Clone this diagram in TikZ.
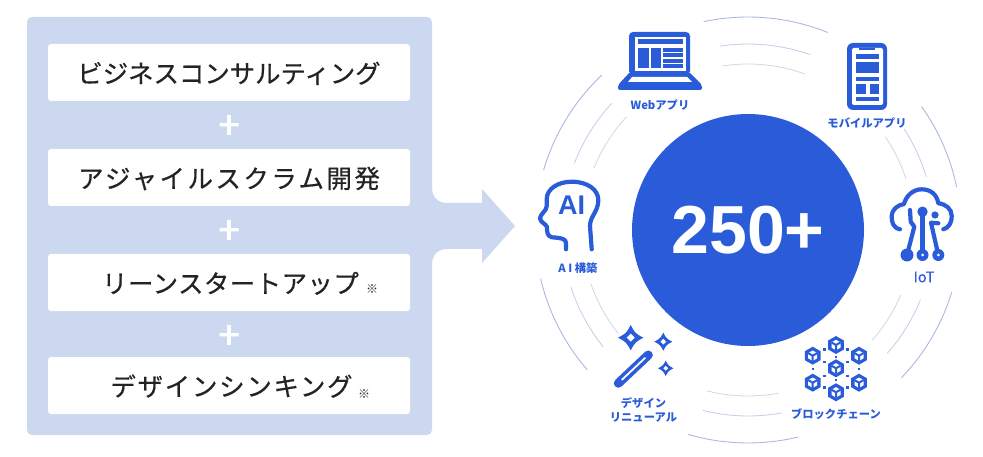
\documentclass[tikz,border=0pt]{standalone}
\usepackage{fontspec}
\setmainfont{Noto Sans CJK JP}
\newfontfamily\cjkmed[FakeBold=0.5]{Noto Sans CJK JP}
\newfontfamily\cjkwide[FakeBold=0.5, LetterSpace=10]{Noto Sans CJK JP}
\newfontfamily\cjkmid[FakeBold=0.5, LetterSpace=7]{Noto Sans CJK JP}
\newfontfamily\cjknarrow[FakeBold=0.5, LetterSpace=2]{Noto Sans CJK JP}
\newfontfamily\plusfont[FakeBold=2]{Noto Sans CJK JP}
\newfontfamily\latinbold[BoldFont={Liberation Sans Bold}]{Liberation Sans}
\usetikzlibrary{positioning}
\definecolor{mainBlue}{RGB}{42,92,217}
\definecolor{panelBlue}{RGB}{203,216,240}
\definecolor{inkBlack}{RGB}{35,35,35}
\definecolor{arcOuter}{RGB}{170,184,224}
\definecolor{arcMid}{RGB}{196,205,230}
\definecolor{arcInner}{RGB}{208,214,232}
\tikzset{
	%Diagram styles
	panel/.style={
		fill=panelBlue,
		rectangle,
		rounded corners=5pt,
		minimum width=405pt,
		minimum height=418pt,
	},
	method/.style={
		fill=white,
		rectangle,
		rounded corners=3pt,
		minimum width=362pt,
		minimum height=57pt,
		text height=22pt,
		text depth=1pt,
		text=inkBlack,
		font=\fontsize{25.4}{30}\cjkmed,
	},
	plusSign/.style={
		text=white,
		font=\fontsize{38}{38}\plusfont,
		inner sep=0pt,
	},
	note/.style={
		text=inkBlack,
		font=\fontsize{12}{12}\selectfont,
		inner sep=0pt,
	},
	hub/.style={
		fill=mainBlue,
		circle,
		minimum size=232pt,
		inner sep=0pt,
		text=white,
		font=\fontsize{68}{68}\latinbold\bfseries,
	},
	label/.style={
		text=mainBlue,
		inner sep=0pt,
		align=center,
		font=\fontsize{11.3}{14}\selectfont\bfseries,
	},
	iconLine/.style={
		draw=mainBlue,
		line width=4.2pt,
		line cap=round,
		line join=round,
	},
	iconFill/.style={
		fill=mainBlue,
	},
	hole/.style={
		fill=white,
	},
	outerArc/.style={draw=arcOuter, line width=0.9pt},
	midArc/.style={draw=arcMid, line width=0.8pt},
	innerArc/.style={draw=arcInner, line width=0.8pt},
	block/.pic={
		\fill[mainBlue] (90:9) -- (30:9) -- (-30:9) -- (-90:9) -- (-150:9) -- (150:9) -- cycle;
		\fill[white] (90:5.2) -- (30:5.2) -- (-30:5.2) -- (-90:5.2) -- (-150:5.2) -- (150:5.2) -- cycle;
		\draw[mainBlue, line width=2pt] (0,0) -- (90:5.2) (0,0) -- (-30:5.2) (0,0) -- (-150:5.2);
	},
	sparkle/.pic={
		\fill[mainBlue] (-1,0) .. controls (-.35,-.35) .. (0,-1) .. controls (.35,-.35) .. (1,0) .. controls (.35,.35) .. (0,1) .. controls (-.35,.35) .. cycle;
	},
}

\begin{document}
\begin{tikzpicture}[x=1pt, y=-1pt, node distance=105pt]
	\useasboundingbox (0,0) rectangle (983,457);

	% left panel with its arrow
	\node (stack) at (229.5,226) [panel] {};
	\fill[panelBlue] (430,188) -- (432,188) .. controls (432,197) and (438,203) .. (447,203) -- (482,203) -- (482,189) -- (515,226) -- (482,263) -- (482,249) -- (447,249) .. controls (438,249) and (432,255) .. (432,264) -- (430,264) -- cycle;

	\node (consulting) at (229,72.5) [method] {ビジネスコンサルティング};
	\node [below of=consulting, method] (agile) {{\cjkwide アジャイルスクラム開発}};
	\node [below of=agile, method] (lean) {\hspace{3pt}{\cjknarrow リーンスタートアップ}};
	\node [below of=lean, yshift=2pt, method] (thinking) {\hspace{5pt}{\cjkmid デザインシンキング}};
	\node (leanNote) at (372,289) [note] {※};
	\node (thinkingNote) at (364,394) [note] {※};
	\node (plusA) at (229,127) [plusSign] {+};
	\node (plusB) at (229,232) [plusSign] {+};
	\node (plusC) at (229,337) [plusSign] {+};

	% hub and rings
	\node (hub) at (748,230) [hub] {250+};
	\foreach \sa/\ea in {102/68, 35.4/11.6, -17/-44, -76.4/-106.4, 221/193.2, 163.7/133.3}
		\draw[outerArc] (hub.center) ++(-\sa:213) arc[start angle=-\sa, end angle=-\ea, radius=213];
	\foreach \sa/\ea in {98.7/70.6, 33/16.6, -22/-41.5, -79.5/-104, 218.9/197.8, 159/137}
		\draw[midArc] (hub.center) ++(-\sa:186) arc[start angle=-\sa, end angle=-\ea, radius=186];
	\foreach \sa/\ea in {98.7/70, 34/17.9, -23/-41.8, -79.2/-104.3, 218.7/198.9, 158.2/137}
		\draw[innerArc] (hub.center) ++(-\sa:166) arc[start angle=-\sa, end angle=-\ea, radius=166];

	% web app
	\fill[iconFill, rounded corners=4pt] (629,75) -- (629,32) -- (690,32) -- (690,75) -- cycle;
	\fill[iconFill, rounded corners=2pt] (630,72) -- (689,72) -- (702,85) -- (702,90) -- (618,90) -- (618,85) -- cycle;
	\fill[hole] (635,37) rectangle (686,71);
	\fill[hole] (632,77) -- (687,77) -- (692,82) -- (628,82) -- cycle;
	\fill[iconFill] (638,39.5) rectangle (683,44);
	\fill[iconFill] (638,48) rectangle (649,68);
	\fill[iconFill] (651,48) rectangle (661,68);
	\foreach \y in {48,53.3,58.6,64}
		\fill[iconFill] (663,\y) rectangle (683,\y+4);
	\node (webLabel) at (660,105) [label] {Webアプリ};

	% mobile app
	\fill[iconFill, rounded corners=6pt] (847,43) rectangle (887,110);
	\fill[hole, rounded corners=2pt] (852,48) rectangle (883,105);
	\fill[iconFill] (859,48) rectangle (875,50);
	\fill[iconFill] (856,54) rectangle (879,59);
	\fill[iconFill] (856,62) rectangle (879,73);
	\fill[iconFill] (856,77) rectangle (879,81);
	\fill[iconFill] (856,84) rectangle (866,94);
	\fill[iconFill] (870,84) rectangle (879,94);
	\fill[iconFill] (856,97) rectangle (879,101);
	\node (mobileLabel) at (867,123) [label] {モバイルアプリ};

	% AI
	\draw[iconLine] (566,249.3) -- (566,243) .. controls (566,239) and (562,238) .. (552,237.3) .. controls (547,236) and (547,232) .. (547,227) .. controls (546,224) and (540,222) .. (540,218.3) .. controls (540,214) and (546.7,211) .. (546.7,206) -- (546.7,199) .. controls (546.7,189) and (558,181.7) .. (571.7,181.7) .. controls (588,181.7) and (598.3,190) .. (598.3,200) .. controls (598.3,212) and (590,216) .. (590,226) -- (591.7,249.3);
	\node (aiMark) at (571.7,205) [inner sep=0pt, text=mainBlue, font=\fontsize{27}{27}\latinbold\bfseries] {AI};
	\node (aiLabel) at (578,268) [label] {A\hspace{2.5pt}I\hspace{2.5pt}構築};

	% IoT
	\draw[iconLine] (900,229.3) .. controls (893,228) and (891.7,222) .. (891.7,216.7) .. controls (891.7,209) and (898,205) .. (904,204) .. controls (906,196) and (913,189.3) .. (921.7,189.3) .. controls (931,189.3) and (937,195) .. (938.3,203.3) .. controls (946,204) and (951.7,209) .. (951.7,216) .. controls (951.7,224) and (948,228) .. (943.3,229.3);
	\draw[iconLine] (922.5,211.7) -- (922.5,255);
	\draw[iconLine] (910,210) -- (910.7,221.7) -- (914.3,226.7) -- (907,255);
	\draw[iconLine] (938.3,223.3) -- (931,222.7) -- (938.3,255);
	\fill[iconFill] (922.5,211.7) circle[radius=5.2];
	\fill[iconFill] (935,215) circle[radius=3.6];
	\fill[iconFill] (907,255) circle[radius=6.5];
	\fill[iconFill] (922.5,255) circle[radius=6];
	\fill[iconFill] (938.3,255) circle[radius=6];
	\fill[hole] (922.5,255) circle[radius=1.5];
	\fill[hole] (938.3,255) circle[radius=1.5];
	\node (iotLabel) at (924,277) [label, font=\fontsize{14.5}{15}\cjkmed] {IoT};

	% blockchain
	\foreach \x/\y in {836/345, 812.7/355.7, 859/355.7, 836/368.3, 812.7/382.7, 859/382.7, 836/392.3}
		\pic at (\x,\y) {block};
	\foreach \x/\y in {824.3/349.3, 847.3/349.3, 812.7/369, 859/369, 824.3/361.7, 847.3/361.7, 824.3/375.7, 847.3/375.7, 824.3/387.3, 847.3/387.3, 836/356.7, 836/380}
		\fill[iconFill] (\x-1.2,\y-1.2) rectangle (\x+1.2,\y+1.2);
	\node (chainLabel) at (836,414) [label] {ブロックチェーン};

	% design renewal
	\draw[mainBlue, line width=9pt, line cap=round] (618.3,383.3) -- (648.3,355);
	\draw[white, line width=1.8pt, line cap=round] (622,379.7) -- (645,358);
	\pic[scale=12.7] at (630.7,337.7) {sparkle};
	\pic[scale=9] at (663.3,341.7) {sparkle};
	\pic[scale=7.7] at (665.7,368.3) {sparkle};
	\fill[hole] (630.7,333.7) -- (634.7,337.7) -- (630.7,341.7) -- (626.7,337.7) -- cycle;
	\fill[hole] (663.3,338.9) -- (666.1,341.7) -- (663.3,344.5) -- (660.5,341.7) -- cycle;
	\fill[hole] (665.7,365.9) -- (668.1,368.3) -- (665.7,370.7) -- (663.3,368.3) -- cycle;
	\node (designLabel) at (643.5,410) [label] {デザイン\\リニューアル};
\end{tikzpicture}
\end{document}
